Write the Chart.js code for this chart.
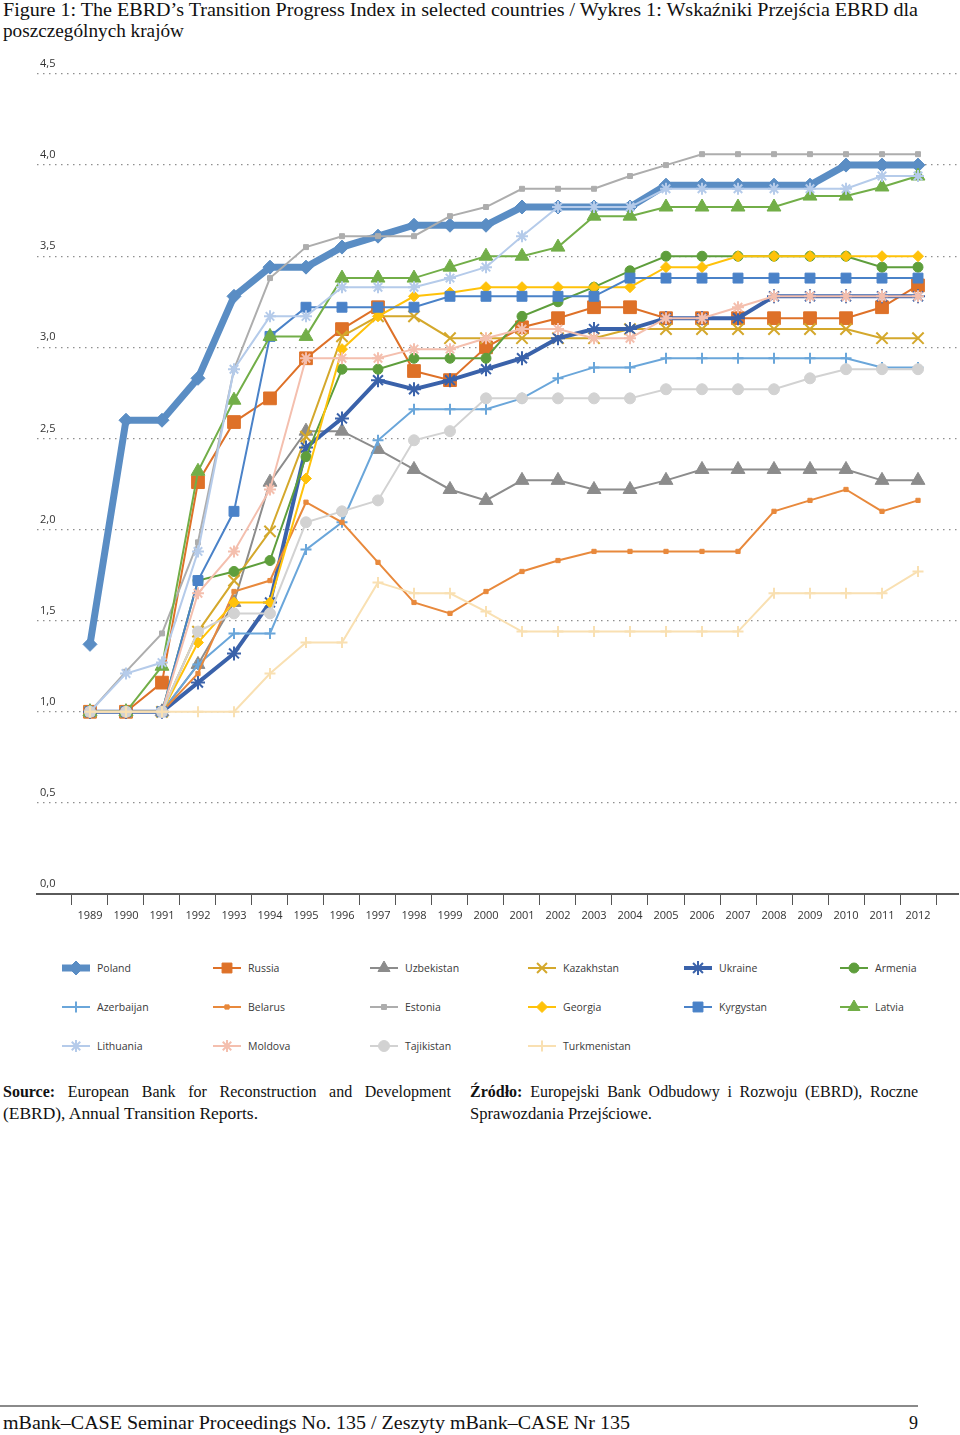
<!DOCTYPE html>
<html>
<head>
<meta charset="utf-8">
<script src="https://cdn.jsdelivr.net/npm/chart.js@4.4.1/dist/chart.umd.min.js"></script>
<style>
html,body{margin:0;padding:0;background:#fff;}
body{width:960px;height:1435px;position:relative;overflow:hidden;font-family:"Liberation Serif","Times New Roman",serif;color:#111;}
.t{position:absolute;white-space:nowrap;transform-origin:0 50%;line-height:22px;}
.j{position:absolute;line-height:22px;text-align:justify;text-align-last:justify;white-space:normal;font-size:16px;}
#chartWrap{position:absolute;left:0;top:45px;width:960px;height:894px;}
#c{display:block;width:960px;height:894px;}
.leg{position:absolute;height:16px;font-family:"Open Sans",sans-serif;font-size:10.5px;color:#3a3a3a;line-height:16px;white-space:nowrap;}
.leg canvas{position:absolute;left:0;top:0;}
.leg span{position:absolute;top:0;}
</style>
</head>
<body>
<div class="t fit" data-w="915" style="left:3px;top:-1px;font-size:19px;">Figure 1: The EBRD’s Transition Progress Index in selected countries / Wykres 1: Wskaźniki Przejścia EBRD dla</div>
<div class="t fit" data-w="181" style="left:3px;top:20px;font-size:19px;">poszczególnych krajów</div>

<div id="chartWrap"><canvas id="c" width="960" height="894"></canvas></div>
<div id="legend"></div>

<div class="j" style="left:3px;top:1081px;width:448px;"><b>Source:</b> European Bank for Reconstruction and Development</div>
<div class="t fit" data-w="255" style="left:3px;top:1103px;font-size:16px;">(EBRD), Annual Transition Reports.</div>
<div class="j" style="left:470px;top:1081px;width:448px;"><b>Źródło:</b> Europejski Bank Odbudowy i Rozwoju (EBRD), Roczne</div>
<div class="t fit" data-w="182" style="left:470px;top:1103px;font-size:16px;">Sprawozdania Przejściowe.</div>

<div style="position:absolute;left:0;top:1405px;width:918px;height:2px;background:#8a8a8a;"></div>
<div class="t fit" data-w="627" style="left:3px;top:1412px;font-size:18px;">mBank–CASE Seminar Proceedings No. 135 / Zeszyty mBank–CASE Nr 135</div>
<div class="t" style="left:909px;top:1412px;font-size:18px;">9</div>

<script>
// ---- data ----
const years = ["1989","1990","1991","1992","1993","1994","1995","1996","1997","1998","1999","2000","2001","2002","2003","2004","2005","2006","2007","2008","2009","2010","2011","2012"];
const yTicks = [0,0.5,1,1.5,2,2.5,3,3.5,4,4.5];

const poland      = [1.37,2.60,2.60,2.83,3.28,3.44,3.44,3.55,3.61,3.67,3.67,3.67,3.77,3.77,3.77,3.77,3.89,3.89,3.89,3.89,3.89,4.00,4.00,4.00];
const russia      = [1.00,1.00,1.16,2.26,2.59,2.72,2.94,3.10,3.22,2.87,2.82,3.00,3.11,3.16,3.22,3.22,3.16,3.16,3.16,3.16,3.16,3.16,3.22,3.34];
const uzbekistan  = [1.00,1.00,1.00,1.26,1.60,2.26,2.54,2.54,2.44,2.33,2.22,2.16,2.27,2.27,2.22,2.22,2.27,2.33,2.33,2.33,2.33,2.33,2.27,2.27];
const kazakhstan  = [1.00,1.00,1.00,1.44,1.72,1.99,2.51,3.06,3.17,3.17,3.05,3.05,3.05,3.05,3.05,3.10,3.10,3.10,3.10,3.10,3.10,3.10,3.05,3.05];
const ukraine     = [1.00,1.00,1.00,1.16,1.32,1.60,2.45,2.61,2.82,2.77,2.82,2.88,2.94,3.05,3.10,3.10,3.16,3.16,3.16,3.28,3.28,3.28,3.28,3.28];
const armenia     = [1.00,1.00,1.00,1.72,1.77,1.83,2.40,2.88,2.88,2.94,2.94,2.94,3.17,3.25,3.33,3.42,3.50,3.50,3.50,3.50,3.50,3.50,3.44,3.44];
const azerbaijan  = [1.00,1.00,1.00,1.26,1.43,1.43,1.89,2.04,2.49,2.66,2.66,2.66,2.72,2.83,2.89,2.89,2.94,2.94,2.94,2.94,2.94,2.94,2.89,2.89];
const belarus     = [1.00,1.00,1.00,1.21,1.66,1.72,2.15,2.04,1.82,1.60,1.54,1.66,1.77,1.83,1.88,1.88,1.88,1.88,1.88,2.10,2.16,2.22,2.10,2.16];
const estonia     = [1.00,1.22,1.43,1.93,2.88,3.38,3.55,3.61,3.61,3.61,3.72,3.77,3.87,3.87,3.87,3.94,4.00,4.06,4.06,4.06,4.06,4.06,4.06,4.06];
const georgia     = [1.00,1.00,1.00,1.38,1.60,1.60,2.28,2.99,3.17,3.28,3.30,3.33,3.33,3.33,3.33,3.33,3.44,3.44,3.50,3.50,3.50,3.50,3.50,3.50];
const kyrgyzstan  = [1.00,1.00,1.00,1.72,2.10,3.06,3.22,3.22,3.22,3.22,3.28,3.28,3.28,3.28,3.28,3.38,3.38,3.38,3.38,3.38,3.38,3.38,3.38,3.38];
const latvia      = [1.00,1.00,1.25,2.32,2.71,3.06,3.06,3.38,3.38,3.38,3.44,3.50,3.50,3.55,3.72,3.72,3.77,3.77,3.77,3.77,3.83,3.83,3.88,3.94];
const lithuania   = [1.00,1.21,1.27,1.88,2.88,3.17,3.17,3.33,3.33,3.33,3.38,3.44,3.61,3.77,3.77,3.77,3.87,3.87,3.87,3.87,3.87,3.87,3.94,3.94];
const moldova     = [1.00,1.00,1.00,1.65,1.88,2.22,2.94,2.94,2.94,2.99,2.99,3.05,3.10,3.10,3.05,3.05,3.16,3.16,3.22,3.28,3.28,3.28,3.28,3.28];
const tajikistan  = [1.00,1.00,1.00,1.44,1.54,1.54,2.04,2.10,2.16,2.49,2.54,2.72,2.72,2.72,2.72,2.72,2.77,2.77,2.77,2.77,2.83,2.88,2.88,2.88];
const turkmenistan= [1.00,1.00,1.00,1.00,1.00,1.21,1.38,1.38,1.71,1.65,1.65,1.55,1.44,1.44,1.44,1.44,1.44,1.44,1.44,1.65,1.65,1.65,1.65,1.77];

const seriesNames = ["Poland","Russia","Uzbekistan","Kazakhstan","Ukraine","Armenia","Azerbaijan","Belarus","Estonia","Georgia","Kyrgystan","Latvia","Lithuania","Moldova","Tajikistan","Turkmenistan"];
const seriesValues = [poland,russia,uzbekistan,kazakhstan,ukraine,armenia,azerbaijan,belarus,estonia,georgia,kyrgyzstan,latvia,lithuania,moldova,tajikistan,turkmenistan];

// ---- styles ----
const styles = [
  {c:'#5A8DC4', w:7, p:'rectRot', r:7},
  {c:'#DE7128', w:2, p:'rect', r:9},
  {c:'#8C8C8C', w:2, p:'triangle', r:8},
  {c:'#D4A82C', w:2, p:'crossRot', r:8},
  {c:'#3A62AA', w:4, p:'star', r:7},
  {c:'#5E9E3C', w:2, p:'circle', r:5},
  {c:'#6AA6DA', w:2, p:'cross', r:5.5},
  {c:'#E8893C', w:2, p:'rect', r:3},
  {c:'#ADADAD', w:2, p:'rect', r:3.5},
  {c:'#FFC20A', w:2, p:'rectRot', r:5.5},
  {c:'#4A82C8', w:2, p:'rect', r:7},
  {c:'#72AE48', w:2, p:'triangle', r:8},
  {c:'#B5CBEA', w:2, p:'star', r:6},
  {c:'#F4BFAE', w:2, p:'star', r:6},
  {c:'#D2D2D2', w:2, p:'circle', r:5.5},
  {c:'#F9E0B2', w:2, p:'cross', r:5.5}
];
const lineStyles = {'cross':1,'crossRot':1,'star':1};

const N = seriesNames.length;
const datasets = seriesNames.map((name, i) => {
  const s = styles[i];
  const isLine = lineStyles[s.p];
  return {
    label: name,
    data: years.map((y, k) => ({x: Number(y), y: seriesValues[i][k]})),
    borderColor: s.c,
    backgroundColor: s.c,
    borderWidth: s.w,
    pointStyle: s.p,
    pointRadius: s.r,
    pointHoverRadius: s.r,
    pointBorderColor: s.c,
    pointBackgroundColor: s.c,
    pointBorderWidth: isLine ? 2 : 1,
    tension: 0,
    fill: false,
    order: N - i
  };
});

const firstYear = Number(years[0]), lastYear = Number(years[years.length-1]);

new Chart(document.getElementById('c'), {
  type: 'line',
  data: { datasets },
  options: {
    responsive: false,
    maintainAspectRatio: false,
    animation: false,
    devicePixelRatio: 1,
    events: [],
    layout: { autoPadding: false, padding: { top: 29, left: 37, right: 2, bottom: 0 } },
    plugins: { legend: { display: false }, tooltip: { enabled: false } },
    scales: {
      x: {
        type: 'linear',
        bounds: 'data',
        min: firstYear - 1.472,
        max: lastYear + 1.111,
        afterFit: s => { s.height = 45; s.paddingLeft = 0; s.paddingRight = 0; },
        afterBuildTicks: s => {
          const t = years.map(y => ({value: Number(y) - 0.5}));
          t.push({value: lastYear + 0.5});
          s.ticks = t;
        },
        ticks: {
          autoSkip: false,
          maxRotation: 0,
          minRotation: 0,
          padding: 4,
          labelOffset: 18,
          color: '#333',
          font: { family: 'Open Sans', size: 11 },
          callback: v => {
            const y = String(Math.round(v + 0.5));
            return years.includes(y) ? y : '';
          }
        },
        grid: { drawOnChartArea: false, drawTicks: true, tickLength: 11, color: '#555', lineWidth: 1 },
        border: { display: true, color: '#5a5a5a', width: 2 }
      },
      y: {
        min: yTicks[0],
        max: yTicks[yTicks.length-1],
        afterFit: s => { s.width = 0; s.paddingLeft = 0; s.paddingRight = 0; },
        afterBuildTicks: s => { s.ticks = yTicks.map(v => ({value: v})); },
        ticks: {
          mirror: true,
          padding: 3,
          labelOffset: -10,
          color: '#333',
          font: { family: 'Open Sans', size: 11 },
          callback: v => Number(v).toFixed(1).replace('.', ',')
        },
        grid: { drawTicks: false, color: '#8f8f8f', lineWidth: 1.3 },
        border: { display: false, dash: [1.5, 4.5] }
      }
    }
  }
});

// ---- HTML legend ----
const legCols = [62, 213, 370, 528, 684, 840];
const legRows = [968, 1007, 1046];
const legend = document.getElementById('legend');
seriesNames.forEach((name, i) => {
  const s = styles[i];
  const col = i % 6, row = Math.floor(i / 6);
  const d = document.createElement('div');
  d.className = 'leg';
  d.style.left = legCols[col] + 'px';
  d.style.top = (legRows[row] - 8) + 'px';
  const cv = document.createElement('canvas');
  cv.width = 32; cv.height = 16;
  const ctx = cv.getContext('2d');
  ctx.strokeStyle = s.c; ctx.lineWidth = s.w;
  ctx.beginPath(); ctx.moveTo(0, 8); ctx.lineTo(28, 8); ctx.stroke();
  ctx.fillStyle = s.c;
  ctx.lineWidth = lineStyles[s.p] ? 2 : 1;
  if (Chart.helpers && Chart.helpers.drawPoint) {
    Chart.helpers.drawPoint(ctx, {pointStyle: s.p, radius: Math.min(s.r, 7), borderWidth: ctx.lineWidth, rotation: 0}, 14, 8);
  }
  d.appendChild(cv);
  const sp = document.createElement('span');
  sp.textContent = name;
  sp.style.left = '35px';
  d.appendChild(sp);
  legend.appendChild(d);
});

// ---- fit text widths ----
function fitAll(){
  document.querySelectorAll('.fit').forEach(el => {
    el.style.transform = 'none';
    const w = el.getBoundingClientRect().width;
    const target = Number(el.dataset.w);
    if (w > 0) el.style.transform = 'scaleX(' + (target / w) + ')';
  });
}
fitAll();
if (document.fonts && document.fonts.ready) document.fonts.ready.then(fitAll);
</script>
</body>
</html>
